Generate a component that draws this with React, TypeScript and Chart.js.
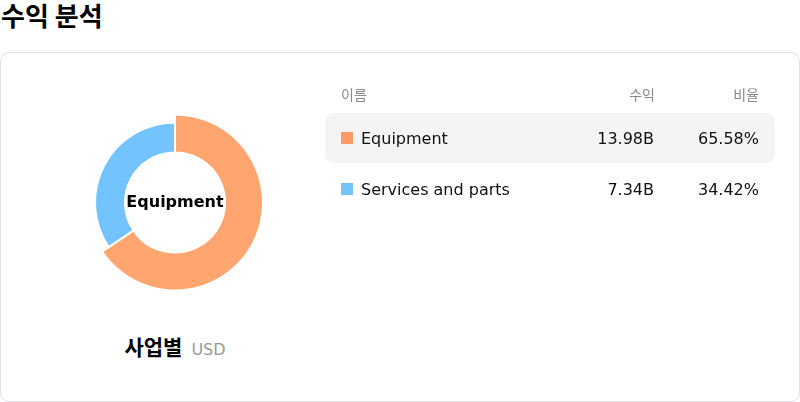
import { useEffect, useRef } from "react";
import { Chart, registerables } from "chart.js";

Chart.register(...registerables);

const categories = ["Equipment", "Services and parts"];
const revenue = [13.98, 7.34];
const revenueLabels = ["13.98B", "7.34B"];
const shares = ["65.58%", "34.42%"];
const colors = ["#ffa570", "#73c3ff"];
const markerColors = ["#ff9c66", "#74c4ff"];

const FONT = "'DejaVu Sans', 'Noto Sans CJK KR', sans-serif";

export default function App() {
  const chartRef = useRef<HTMLCanvasElement>(null);
  const chartInstance = useRef<Chart | null>(null);

  useEffect(() => {
    document.body.style.margin = "0";
    if (!chartRef.current) return;
    if (chartInstance.current) chartInstance.current.destroy();
    const ctx = chartRef.current.getContext("2d");
    if (!ctx) return;

    // active slice drawn a bit bigger, and its name in the hole
    const activePlugin = {
      id: "activeSlice",
      beforeDatasetsDraw(chart: any) {
        const arc = chart.getDatasetMeta(0).data[0];
        if (arc && !arc.$grown) {
          arc.outerRadius += 8;
          arc.$grown = true;
        }
      },
      afterDraw(chart: any) {
        const arc = chart.getDatasetMeta(0).data[0];
        if (!arc) return;
        const c = chart.ctx;
        c.save();
        c.font = `bold 16px ${FONT}`;
        c.fillStyle = "#000";
        c.textAlign = "center";
        c.textBaseline = "middle";
        c.fillText(categories[0], arc.x, arc.y);
        c.restore();
      },
    };

    chartInstance.current = new Chart(ctx, {
      type: "doughnut",
      data: {
        labels: categories,
        datasets: [
          {
            data: revenue,
            backgroundColor: colors,
            borderColor: "#ffffff",
            borderWidth: 2,
          },
        ],
      },
      options: {
        responsive: true,
        maintainAspectRatio: false,
        animation: false,
        radius: 80,
        cutout: "62.5%",
        plugins: {
          legend: { display: false },
          tooltip: { enabled: false },
        },
        events: [],
      },
      plugins: [activePlugin],
    });

    return () => {
      if (chartInstance.current) {
        chartInstance.current.destroy();
        chartInstance.current = null;
      }
    };
  }, []);

  return (
    <div style={{ position: "relative", width: 800, height: 402, fontFamily: FONT }}>
      <div
        style={{
          position: "absolute",
          left: 1,
          top: -1,
          fontSize: 26,
          fontWeight: 700,
          lineHeight: "32px",
          color: "#000",
          fontFamily: "'Noto Sans CJK KR', sans-serif",
        }}
      >
        수익 분석
      </div>
      <div
        style={{
          position: "absolute",
          left: 0,
          top: 52,
          width: 798,
          height: 348,
          border: "1px solid #e2e0ea",
          borderRadius: 9,
        }}
      />
      <div style={{ position: "absolute", left: 0, top: 102, width: 350, height: 201 }}>
        <canvas ref={chartRef} />
      </div>
      <div
        style={{
          position: "absolute",
          left: 0,
          top: 332,
          width: 350,
          textAlign: "center",
          lineHeight: "28px",
        }}
      >
        <span style={{ fontSize: 21, fontWeight: 700, color: "#000", fontFamily: "'Noto Sans CJK KR', sans-serif" }}>
          사업별
        </span>
        <span style={{ fontSize: 16, color: "#999", marginLeft: 9 }}>USD</span>
      </div>
      <div
        style={{
          position: "absolute",
          left: 341,
          top: 85,
          width: 418,
          fontSize: 14,
          color: "#888",
          lineHeight: "20px",
        }}
      >
        <span>이름</span>
        <span style={{ position: "absolute", right: 104 }}>수익</span>
        <span style={{ position: "absolute", right: 0 }}>비율</span>
      </div>
      {categories.map((name, i) => (
        <div
          key={name}
          style={{
            position: "absolute",
            left: 325,
            top: 113 + i * 51,
            width: 450,
            height: 50,
            borderRadius: 9,
            background: i === 0 ? "#f4f4f4" : "transparent",
            fontSize: 16,
            color: "#111",
            lineHeight: "51px",
          }}
        >
          <span
            style={{
              position: "absolute",
              left: 16,
              top: 19,
              width: 12,
              height: 12,
              background: markerColors[i],
            }}
          />
          <span style={{ position: "absolute", left: 36 }}>{name}</span>
          <span style={{ position: "absolute", right: 121 }}>{revenueLabels[i]}</span>
          <span style={{ position: "absolute", right: 16 }}>{shares[i]}</span>
        </div>
      ))}
    </div>
  );
}
